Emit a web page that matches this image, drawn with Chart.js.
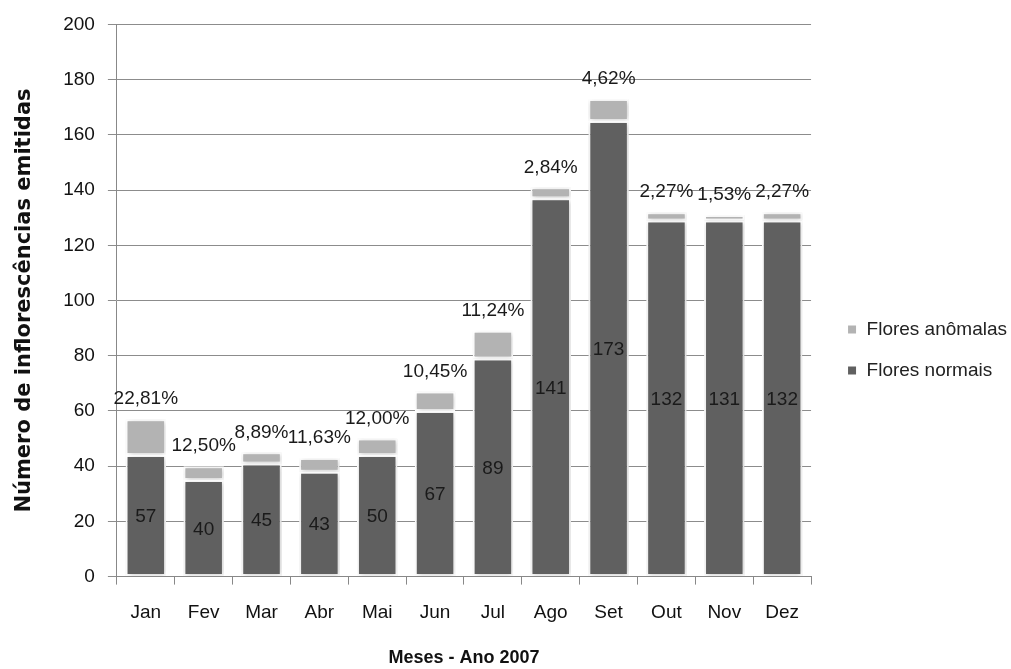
<!DOCTYPE html>
<html>
<head>
<meta charset="utf-8">
<script src="https://cdn.jsdelivr.net/npm/chart.js@4.4.0/dist/chart.umd.min.js"></script>
<style>
  html, body { margin: 0; padding: 0; background: #fff; }
  #wrap { width: 1011px; height: 669px; }
</style>
</head>
<body>
<div id="wrap"><canvas id="flowerChart" width="1011" height="669"></canvas></div>
<script>
// data
const months = ['Jan', 'Fev', 'Mar', 'Abr', 'Mai', 'Jun', 'Jul', 'Ago', 'Set', 'Out', 'Nov', 'Dez'];
const normais = [44, 35, 41, 38, 44, 60, 79, 137, 165, 129, 129, 129];
const anomalas = [13, 5, 4, 5, 6, 7, 10, 4, 8, 3, 2, 3];
const totalLabels = ['57', '40', '45', '43', '50', '67', '89', '141', '173', '132', '131', '132'];
const pctLabels = ['22,81%', '12,50%', '8,89%', '11,63%', '12,00%', '10,45%', '11,24%', '2,84%', '4,62%', '2,27%', '1,53%', '2,27%'];

const FONT = 'Arial, "Liberation Sans", sans-serif';

// soft shadow round the bars, like the office chart
const barShadow = {
    id: 'barShadow',
    beforeDatasetDraw(chart) {
        const c = chart.ctx;
        c.save();
        c.shadowColor = 'rgba(0,0,0,0.22)';
        c.shadowBlur = 5;
        c.shadowOffsetX = 1;
        c.shadowOffsetY = 1;
    },
    afterDatasetDraw(chart) {
        chart.ctx.restore();
    }
};

// writes the totals inside the dark bars and the percentages on top
const barLabels = {
    id: 'barLabels',
    afterDatasetsDraw(chart) {
        const ctx = chart.ctx;
        const y = chart.scales.y;
        const x = chart.scales.x;
        ctx.save();
        ctx.font = '19px ' + FONT;
        ctx.fillStyle = '#1a1a1a';
        ctx.textAlign = 'center';
        ctx.textBaseline = 'middle';
        months.forEach((m, i) => {
            const cx = x.getPixelForValue(i);
            ctx.fillText(totalLabels[i], cx, y.getPixelForValue(normais[i] / 2) + 1);
            const top = y.getPixelForValue(normais[i] + anomalas[i]);
            ctx.fillText(pctLabels[i], cx, top - 20);
        });
        ctx.restore();
    }
};

const ctx = document.getElementById('flowerChart').getContext('2d');
new Chart(ctx, {
    type: 'bar',
    data: {
        labels: months,
        datasets: [
            {
                label: 'Flores normais',
                data: normais,
                backgroundColor: '#606060',
                borderColor: '#ffffff',
                borderWidth: 2,
                borderSkipped: false
            },
            {
                label: 'Flores anômalas',
                data: anomalas,
                backgroundColor: '#b3b3b3',
                borderColor: '#ffffff',
                borderWidth: 2,
                borderSkipped: false
            }
        ]
    },
    options: {
        responsive: false,
        animation: false,
        barPercentage: 0.7,
        categoryPercentage: 1,
        layout: {
            padding: { top: 13, left: 8, right: -6, bottom: -18 }
        },
        plugins: {
            legend: {
                position: 'right',
                reverse: true,
                maxWidth: 210,
                labels: {
                    boxWidth: 10,
                    boxHeight: 10,
                    padding: 22,
                    color: '#222',
                    font: { size: 19, family: FONT }
                }
            },
            tooltip: { enabled: false }
        },
        scales: {
            x: {
                stacked: true,
                grid: {
                    display: true,
                    drawOnChartArea: false,
                    offset: true,
                    color: '#888',
                    tickLength: 8
                },
                border: { color: '#888' },
                ticks: {
                    color: '#111',
                    padding: 17,
                    font: { size: 19, family: FONT }
                },
                title: {
                    display: true,
                    text: 'Meses - Ano 2007',
                    color: '#111',
                    font: { size: 18, weight: 'bold', family: FONT },
                    padding: { top: 6, bottom: 18 }
                }
            },
            y: {
                stacked: true,
                min: 0,
                max: 200,
                ticks: {
                    stepSize: 20,
                    color: '#111',
                    padding: 13,
                    font: { size: 19, family: FONT }
                },
                grid: {
                    color: '#8c8c8c',
                    tickLength: 9
                },
                border: { color: '#888' },
                title: {
                    display: true,
                    text: 'Número de inflorescências emitidas',
                    color: '#111',
                    font: { size: 21, weight: 'bold', family: '"DejaVu Sans", sans-serif' },
                    padding: { bottom: 13 }
                }
            },
            // empty spacer between the plot and the legend
            gap: {
                position: 'right',
                display: true,
                ticks: { display: false },
                grid: { display: false },
                border: { display: false },
                afterFit(scale) { scale.width = 14; }
            }
        }
    },
    plugins: [barShadow, barLabels]
});
</script>
</body>
</html>
